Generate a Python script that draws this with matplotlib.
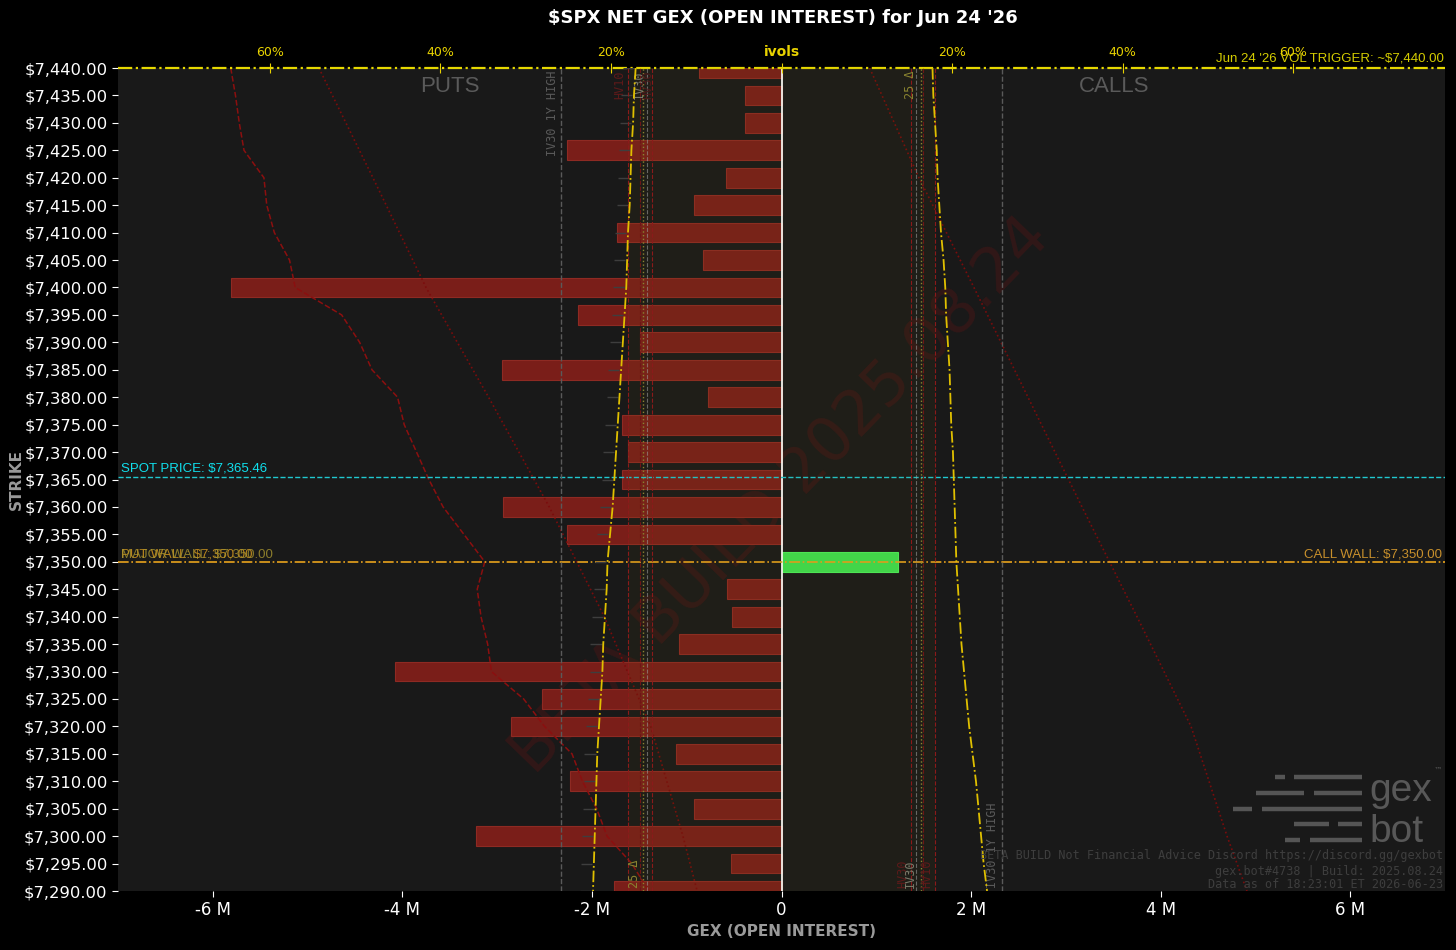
import matplotlib
matplotlib.use("Agg")
import matplotlib.pyplot as plt
import numpy as np

# strikes top -> bottom
strikes = list(range(7440, 7285, -5))
net_gex = [-0.87, -0.38, -0.38, -2.26, -0.59, -0.92, -1.74, -0.83, -5.81, -2.15,
           -1.49, -2.95, -0.78, -1.68, -1.62, -1.68, -2.94, -2.26, 1.23, -0.57,
           -0.52, -1.08, -4.08, -2.53, -2.85, -1.11, -2.23, -0.92, -3.22, -0.53, -1.77]

# dashed red profile (put side), M
put_profile = [-5.81, -5.76, -5.72, -5.67, -5.46, -5.43, -5.35, -5.19, -5.13, -4.64,
               -4.45, -4.32, -4.05, -3.98, -3.85, -3.72, -3.57, -3.35, -3.13, -3.21,
               -3.17, -3.10, -3.06, -2.72, -2.50, -2.21, -2.10, -1.95, -1.84, -1.58, -1.40]

# dotted red profiles
dot_strikes = [7440, 7420, 7400, 7380, 7360, 7340, 7320, 7300, 7290]
dot_puts = [-4.88, -4.31, -3.75, -3.09, -2.45, -1.87, -1.38, -1.04, -0.89]
dot_calls = [0.93, 1.45, 2.03, 2.60, 3.17, 3.75, 4.32, 4.70, 4.91]

# implied vol skew (%), per strike
put_ivol = [17.1, 17.3, 17.4, 17.6, 17.7, 17.8, 18.0, 18.1, 18.2, 18.4,
            18.6, 18.8, 19.0, 19.2, 19.4, 19.6, 19.8, 20.1, 20.4, 20.5,
            20.7, 20.9, 21.0, 21.2, 21.4, 21.6, 21.7, 21.8, 21.9, 22.0, 22.1]
call_ivol = [17.7, 17.8, 18.0, 18.2, 18.3, 18.5, 18.7, 19.0, 19.2, 19.3,
             19.5, 19.7, 19.8, 19.9, 20.1, 20.2, 20.3, 20.4, 20.5, 20.7,
             20.9, 21.1, 21.4, 21.7, 22.0, 22.4, 22.8, 23.1, 23.4, 23.7, 24.1]

hv10 = 18.0
hv20 = 16.6
hv30 = 15.2
iv30 = 15.8
d25_put = 16.2
d25_call = 16.3
iv30_1y_high = 25.8

spot = 7365.46
call_wall = 7350
put_wall = 7350
major_wall = 7350
vol_trigger = 7440

fig = plt.figure(figsize=(14.56, 9.5), dpi=100, facecolor='black')
ax = fig.add_axes([0.081, 0.0621, 0.9115, 0.8663])
ax.set_facecolor('#191919')

colors = ['#7a1e19' if v < 0 else '#3fe04e' for v in net_gex]
edges = ['#8e2a23' if v < 0 else '#4cf05a' for v in net_gex]
ax.barh(strikes, net_gex, height=3.6, color=colors, edgecolor=edges, linewidth=0.8, zorder=2)

ax.plot(put_profile, strikes, color='#8b0f0f', ls='--', lw=1.1, zorder=3)
ax.plot(dot_puts, dot_strikes, color='#7a0c0c', ls=':', lw=1.2, zorder=3)
ax.plot(dot_calls, dot_strikes, color='#7a0c0c', ls=':', lw=1.2, zorder=3)

ax.axvline(0, color='white', lw=1.3, zorder=4)

ax.set_xlim(-7, 7)
ax.set_ylim(7290, 7440)
ax.set_yticks(strikes)
ax.set_yticklabels([f"\\${s:,.2f}" for s in strikes])
xt = [-6, -4, -2, 0, 2, 4, 6]
ax.set_xticks(xt)
ax.set_xticklabels([f"{v} M" if v != 0 else "0" for v in xt])
ax.tick_params(colors='white', length=4)
ax.tick_params(axis='y', labelsize=11.8)
ax.tick_params(axis='x', labelsize=12)
for s in ax.spines.values():
    s.set_visible(False)

# watermark
ax.text(0, 7362, "BETA BUILD 2025.08.24", rotation=46, fontsize=45, color='#b01010',
        alpha=0.16, ha='center', va='center', rotation_mode='anchor', zorder=1)

# levels
ax.axhline(spot, color='#20c8d0', ls='--', lw=1.0, zorder=5)
ax.text(-6.97, spot + 0.4, "SPOT PRICE: \\$7,365.46", color='#10e0ee', fontsize=9.5,
        family='Liberation Sans', va='bottom', ha='left', zorder=6)
ax.axhline(call_wall, color='#e8a21c', ls='-.', lw=1.2, zorder=5)
ax.text(6.97, call_wall + 0.3, "CALL WALL: \\$7,350.00", color='#c8902c', fontsize=9.5,
        family='Liberation Sans', va='bottom', ha='right', zorder=6)
ax.text(-6.97, put_wall + 0.3, "PUT WALL: \\$7,350.00", color='#c8901e', fontsize=9.5,
        family='Liberation Sans', va='bottom', ha='left', alpha=0.9, zorder=6)
ax.text(-6.97, major_wall + 0.3, "MAJOR WALL: \\$7,350.00", color='#a89630', fontsize=9.5,
        family='Liberation Sans', va='bottom', ha='left', alpha=0.8, zorder=6)
ax.axhline(vol_trigger, color='#e6d800', ls='-.', lw=1.6, clip_on=False, zorder=5)
ax.text(6.99, vol_trigger + 0.6, "Jun 24 '26 VOL TRIGGER: ~\\$7,440.00", color='#d4cc00',
        fontsize=9.5, family='Liberation Sans', va='bottom', ha='right', clip_on=False, zorder=6)

ax.text(0.25, 0.977, "PUTS", transform=ax.transAxes, color='#5a5a5a', fontsize=16,
        family='Liberation Sans', ha='center', va='center')
ax.text(0.7506, 0.977, "CALLS", transform=ax.transAxes, color='#5a5a5a', fontsize=16,
        family='Liberation Sans', ha='center', va='center')

# ivol axis on top
ax2 = ax.twiny()
ax2.set_xlim(-77.8, 77.8)
ax2.set_ylim(7290, 7440)
tt = [-60, -40, -20, 0, 20, 40, 60]
ax2.set_xticks(tt)
ax2.set_xticklabels([f"{abs(v)}%" if v != 0 else "ivols" for v in tt])
ax2.tick_params(axis='x', colors='#e8d200', labelsize=9, direction='inout', length=7, pad=3)
for lab in ax2.get_xticklabels():
    if lab.get_text() == "ivols":
        lab.set_fontweight('bold')
        lab.set_fontsize(10)
for s in ax2.spines.values():
    s.set_visible(False)

ax2.axvspan(-hv10, hv10, color='#6b6010', alpha=0.08, lw=0, zorder=0)

pi = -np.array(put_ivol)
ci = np.array(call_ivol)
ax2.hlines(strikes, pi - 1.5, pi - 0.2, color='#3e3e3e', lw=1.0, zorder=3)
ax2.plot(pi, strikes, color='#e0c000', ls='-.', lw=1.3, zorder=6)
ax2.plot(ci, strikes, color='#e0c000', ls='-.', lw=1.3, zorder=6)

mono = 'DejaVu Sans Mono'
for side in (-1, 1):
    ax2.axvline(side * iv30_1y_high, color='#5a5a5a', ls='--', lw=1.0, zorder=3)
    ax2.axvline(side * hv10, color='#8b1a1a', ls='--', lw=0.8, zorder=3)
    ax2.axvline(side * hv20, color='#6e1616', ls='--', lw=0.8, zorder=3)
    ax2.axvline(side * hv30, color='#8b1a1a', ls='--', lw=0.8, zorder=3)
    ax2.axvline(side * iv30, color='#9a9a9a', ls='--', lw=0.8, alpha=0.6, zorder=3)
ax2.axvline(-d25_put, color='#8a8430', ls=':', lw=1.0, zorder=3)
ax2.axvline(d25_call, color='#8a8430', ls=':', lw=1.0, zorder=3)

lab_kw = dict(rotation=90, fontsize=8.5, family=mono, ha='right', zorder=4)
ax2.text(-iv30_1y_high - 0.3, 7439.6, "IV30 1Y HIGH", color='#5a5a5a', va='top', **lab_kw)
ax2.text(iv30_1y_high - 0.3, 7290.5, "IV30 1Y HIGH", color='#5a5a5a', va='bottom', **lab_kw)
ax2.text(-hv10 - 0.2, 7439.6, "HV10", color='#5e1a1a', va='top', **lab_kw)
ax2.text(-iv30 - 0.1, 7439.6, "IV30", color='#7a7a6a', va='top', **lab_kw)
ax2.text(-hv30 + 0.3, 7439.6, "HV30", color='#4e1a1a', va='top', **lab_kw)
ax2.text(-d25_put - 0.3, 7290.5, "25 Δ", color='#8a8430', va='bottom', **lab_kw)
ax2.text(d25_call - 0.4, 7439.6, "25 Δ", color='#8a8430', va='top', **lab_kw)
ax2.text(hv30 - 0.2, 7290.5, "HV30", color='#5e1a1a', va='bottom', **lab_kw)
ax2.text(iv30 + 0.1, 7290.5, "IV30", color='#7a7a6a', va='bottom', **lab_kw)
ax2.text(hv10 - 0.2, 7290.5, "HV10", color='#5e1a1a', va='bottom', **lab_kw)

# logo
W, H = 1456, 950
def fx(px):
    return px / W
def fy(py):
    return 1 - py / H
logo_rows = [(777, [(1275, 1285), (1294, 1362)]),
             (793, [(1256, 1304), (1314, 1362)]),
             (809, [(1233, 1252), (1262, 1362)]),
             (824, [(1294, 1329), (1338, 1362)]),
             (840, [(1285, 1300), (1310, 1362)])]
for py, segs in logo_rows:
    for a, b in segs:
        fig.add_artist(plt.Line2D([fx(a), fx(b)], [fy(py), fy(py)], color='#555555',
                                  lw=3.2, solid_capstyle='butt'))
fig.text(fx(1369), fy(801), "gex", color='#585858', fontsize=28, family='Liberation Sans',
         ha='left', va='baseline')
fig.text(fx(1369), fy(842), "bot", color='#585858', fontsize=28, family='Liberation Sans',
         ha='left', va='baseline')
fig.text(fx(1434), fy(770), "™", color='#585858', fontsize=6, family='DejaVu Sans',
         ha='left', va='center')

foot = ["BETA BUILD Not Financial Advice Discord https://discord.gg/gexbot",
        "gex.bot#4738 | Build: 2025.08.24",
        "Data as of 18:23:01 ET 2026-06-23"]
for t, py in zip(foot, [856, 871, 885]):
    fig.text(fx(1443), fy(py), t, color='#3e3e3e', fontsize=8.5, family=mono,
             ha='right', va='center')

fig.text(0.538, 0.981, "\\$SPX NET GEX (OPEN INTEREST) for Jun 24 '26", color='white',
         fontsize=13, fontweight='bold', ha='center', va='center')
fig.text(0.0110, 0.495, "STRIKE", color='#9a9a9a', fontsize=11, fontweight='bold',
         rotation=90, ha='center', va='center')
fig.text(0.537, 0.019, "GEX (OPEN INTEREST)", color='#9a9a9a', fontsize=11,
         fontweight='bold', ha='center', va='center')

fig.savefig("out.png", dpi=100, facecolor='black')
